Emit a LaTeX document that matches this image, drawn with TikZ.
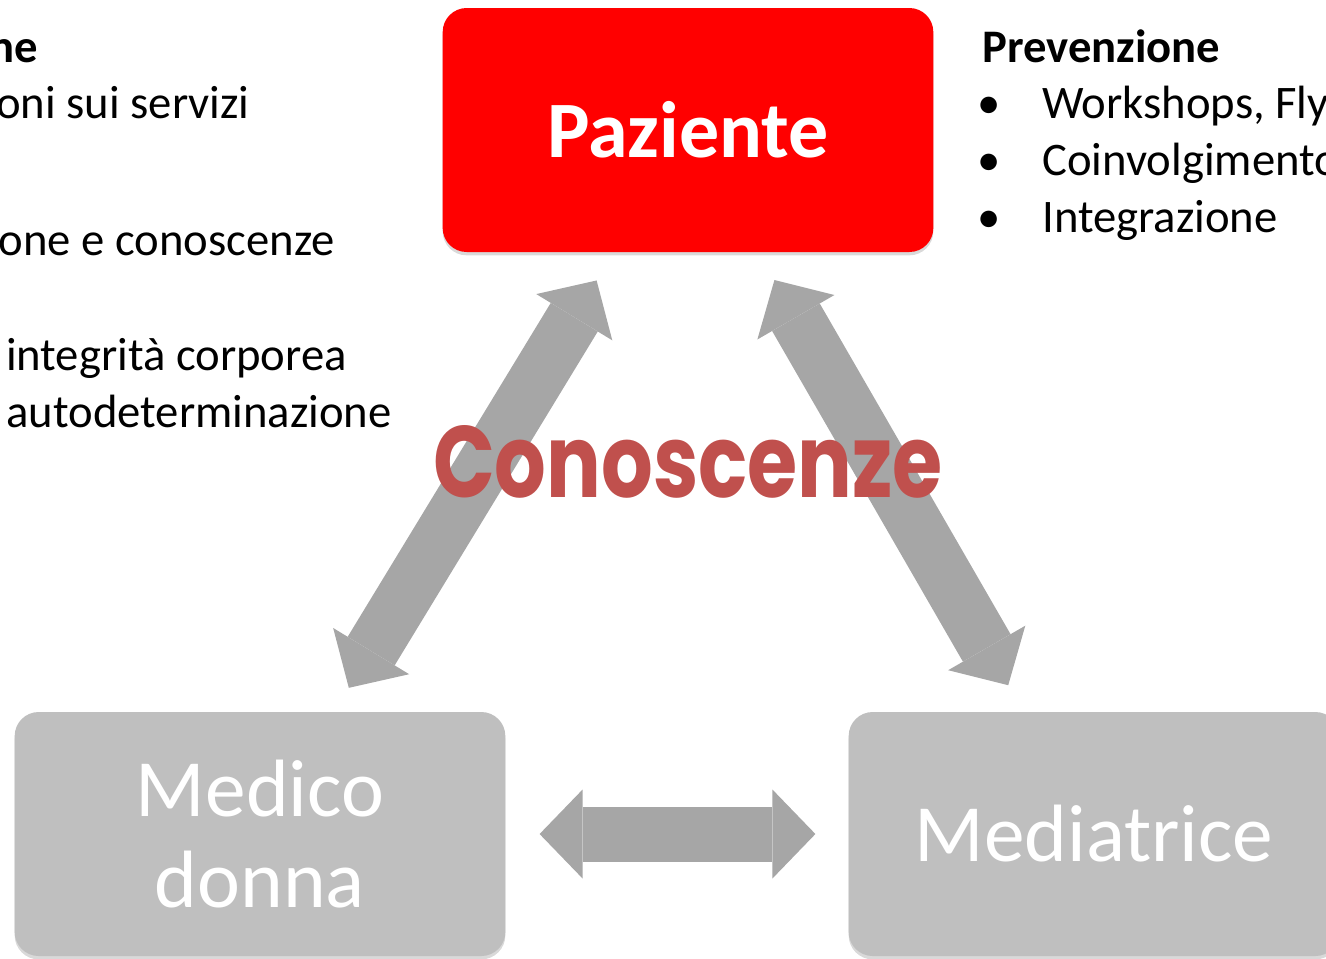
\documentclass[tikz,border=0pt]{standalone}
\usepackage{fontspec}
\setmainfont{Carlito}
\newfontfamily\comicfont{Poppins}
\usetikzlibrary{arrows.meta,shadows}
\definecolor{pazred}{RGB}{255,0,0}
\definecolor{boxgray}{RGB}{191,191,191}
\definecolor{arrowgray}{RGB}{166,166,166}
\definecolor{conored}{RGB}{192,80,77}

\begin{document}
\begin{tikzpicture}[x=0.75pt,y=-0.75pt]
\tikzset{box/.style = {shape=rectangle,rounded corners=18pt,minimum width=368pt,minimum height=183pt,text=white,align=center,drop shadow={shadow xshift=0pt,shadow yshift=-2.5pt,opacity=0.3}}}
\tikzset{txt/.style = {inner sep=0pt,font=\fontsize{35}{43}\selectfont}}
\tikzset{dbl/.style = {draw=arrowgray,line width=41.25pt,{Triangle[width=66.75pt,length=32.25pt,line width=0pt]}-{Triangle[width=66.75pt,length=32.25pt,line width=0pt]}}}
\useasboundingbox (0,0) rectangle (1326,958);
% vertices
\node[box,fill=pazred,font=\fontsize{60}{68}\selectfont\bfseries] (paz) at (688,130) {Paziente};
\node[box,fill=boxgray,font=\fontsize{61}{68}\selectfont] (med) at (260,834) {Medico\\donna};
\node[box,fill=boxgray,font=\fontsize{61}{68}\selectfont] (medtr) at (1094,834) {Mediatrice};
% left list
\node[txt,anchor=base east,font=\fontsize{35}{43}\selectfont\bfseries] (l0) at (38,62) {ne};
\node[txt,anchor=base east] (l1) at (250,118) {oni sui servizi};
\node[txt,anchor=base east] (l2) at (335,255) {one e conoscenze};
\node[txt,anchor=base east] (l3) at (347,370) {integrità corporea};
\node[txt,anchor=base east] (l4) at (392,427) {autodeterminazione};
% right list
\node[txt,anchor=base west,font=\fontsize{35}{43}\selectfont\bfseries] (r0) at (982,62) {Prevenzione};
\node[txt,anchor=base] (b1) at (989,118) {\textbullet};
\node[txt,anchor=base] (b2) at (989,175) {\textbullet};
\node[txt,anchor=base] (b3) at (989,232) {\textbullet};
\node[txt,anchor=base west] (r1) at (1042,118) {Workshops, Fly};
\node[txt,anchor=base west] (r2) at (1042,175) {Coinvolgimento};
\node[txt,anchor=base west] (r3) at (1042,232) {Integrazione};
%edges
\draw[dbl,shorten <=24.75pt,shorten >=21pt] (paz) -- (med);
\draw[dbl,shorten <=24pt,shorten >=23pt] (paz) -- (medtr);
\draw[dbl,shorten <=25.5pt,shorten >=24.75pt] (med) -- (medtr);
\node[anchor=base,inner sep=0pt,text=conored] (con) at (688,497) {\resizebox{382.5pt}{54pt}{\comicfont\bfseries Conoscenze}};
\end{tikzpicture}
\end{document}
